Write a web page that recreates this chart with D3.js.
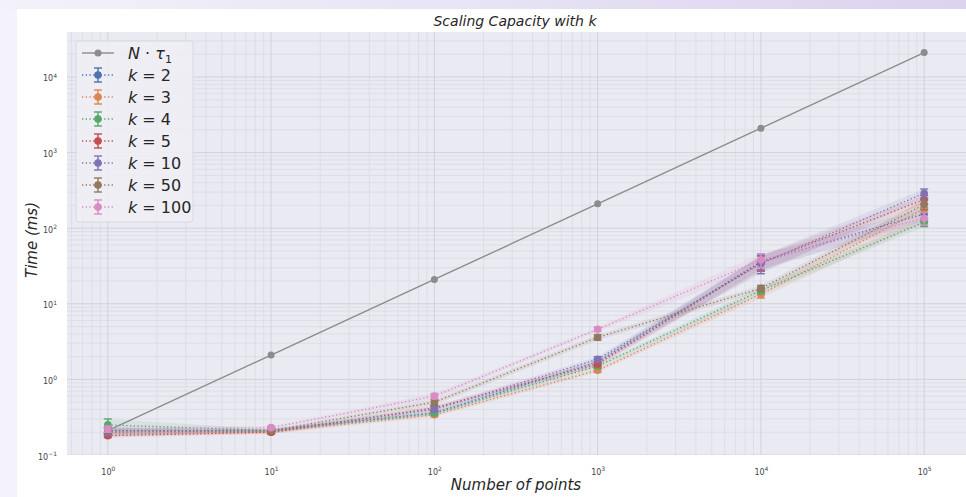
<!DOCTYPE html>
<html><head><meta charset="utf-8">
<script src="https://cdn.jsdelivr.net/npm/d3@7"></script>
<style>body{margin:0;padding:0;background:#fff;} svg{display:block;font-family:"DejaVu Sans",sans-serif;}</style>
</head><body>
<svg id="chart" width="966" height="497"></svg>
<script>
// ---- data ----
const xPoints = [1, 10, 100, 1000, 10000, 100000];
const refLine = [0.21, 2.1, 21, 210, 2100, 21000];           // N·tau1
const kLabels = ["2", "3", "4", "5", "10", "50", "100"];
const meanK2   = [0.21, 0.21, 0.36, 1.70, 36, 155];
const meanK3   = [0.19, 0.20, 0.34, 1.32, 13.4, 180];
const meanK4   = [0.25, 0.21, 0.36, 1.50, 15, 120];
const meanK5   = [0.18, 0.20, 0.42, 1.60, 35, 240];
const meanK10  = [0.20, 0.21, 0.40, 1.85, 34, 290];
const meanK50  = [0.21, 0.21, 0.50, 3.60, 16, 205];
const meanK100 = [0.22, 0.23, 0.60, 4.60, 38, 135];
const errK2   = [0.02, 0.01, 0.02, 0.15, 8, 30];
const errK3   = [0.01, 0.01, 0.02, 0.08, 1.5, 60];
const errK4   = [0.05, 0.01, 0.02, 0.10, 1.5, 15];
const errK5   = [0.01, 0.01, 0.03, 0.12, 8, 30];
const errK10  = [0.02, 0.01, 0.03, 0.15, 9, 40];
const errK50  = [0.02, 0.01, 0.04, 0.30, 1.5, 30];
const errK100 = [0.02, 0.01, 0.05, 0.30, 8, 25];
const xTicks = [1, 10, 100, 1000, 10000, 100000];
const yTicks = [0.1, 1, 10, 100, 1000, 10000];
const colors = ["#4c72b0", "#dd8452", "#55a868", "#c44e52", "#8172b3", "#937860", "#da8bc3"];
const refColor = "#8c8c8c";

const means = [meanK2, meanK3, meanK4, meanK5, meanK10, meanK50, meanK100];
const errs = [errK2, errK3, errK4, errK5, errK10, errK50, errK100];
const series = kLabels.map((k, i) => ({
  k, color: colors[i],
  pts: xPoints.map((x, j) => ({x, y: means[i][j], lo: means[i][j] - errs[i][j], hi: means[i][j] + errs[i][j]}))
}));

// ---- layout ----
const svg = d3.select("#chart");
const W = 966, H = 497;
const plot = {l: 67, r: 966, t: 32, b: 455};

// outer page background
const defs = svg.append("defs");
const grad = defs.append("linearGradient").attr("id", "topg").attr("x1", "0").attr("x2", "1").attr("y1", "0").attr("y2", "0");
grad.append("stop").attr("offset", "0").attr("stop-color", "#f3f2fa");
grad.append("stop").attr("offset", "1").attr("stop-color", "#dcd3ef");
svg.append("rect").attr("x", 0).attr("y", 0).attr("width", W).attr("height", H).attr("fill", "#f4f3fb");
svg.append("rect").attr("x", 0).attr("y", 0).attr("width", W).attr("height", 10).attr("fill", "url(#topg)");
svg.append("rect").attr("x", 17).attr("y", 9).attr("width", W - 17).attr("height", H - 9).attr("fill", "#ffffff");

const x = d3.scaleLog().domain([Math.pow(10, -0.25), Math.pow(10, 5.25)]).range([plot.l, plot.l + 898]);
const y = d3.scaleLog().domain([0.1, Math.pow(10, 4.595)]).range([plot.b, plot.t]);

defs.append("clipPath").attr("id", "clip").append("rect")
  .attr("x", plot.l).attr("y", plot.t).attr("width", plot.r - plot.l).attr("height", plot.b - plot.t);

svg.append("rect").attr("x", plot.l).attr("y", plot.t).attr("width", plot.r - plot.l).attr("height", plot.b - plot.t).attr("fill", "#eaeaf2");

// grid
const gGrid = svg.append("g").attr("clip-path", "url(#clip)");
function minorTicks(scale) {
  const [a, b] = scale.domain();
  const out = [];
  for (let e = Math.floor(Math.log10(a)) ; e <= Math.ceil(Math.log10(b)); e++) {
    for (let m = 2; m <= 9; m++) { const v = m * Math.pow(10, e); if (v >= a && v <= b) out.push(v); }
  }
  return out;
}
gGrid.selectAll(".xmin").data(minorTicks(x)).join("line")
  .attr("x1", d => x(d)).attr("x2", d => x(d)).attr("y1", plot.t).attr("y2", plot.b)
  .attr("stroke", "#dadae3").attr("stroke-width", 0.8);
gGrid.selectAll(".ymin").data(minorTicks(y)).join("line")
  .attr("y1", d => y(d)).attr("y2", d => y(d)).attr("x1", plot.l).attr("x2", plot.r)
  .attr("stroke", "#dadae3").attr("stroke-width", 0.8);
gGrid.selectAll(".xmaj").data(xTicks).join("line")
  .attr("x1", d => x(d)).attr("x2", d => x(d)).attr("y1", plot.t).attr("y2", plot.b)
  .attr("stroke", "#d2d2dc").attr("stroke-width", 1);
gGrid.selectAll(".ymaj").data(yTicks).join("line")
  .attr("y1", d => y(d)).attr("y2", d => y(d)).attr("x1", plot.l).attr("x2", plot.r)
  .attr("stroke", "#d2d2dc").attr("stroke-width", 1);

// axes
function supLabels(sel) {
  sel.selectAll(".tick text").each(function(d) {
    const t = d3.select(this);
    const e = Math.round(Math.log10(d));
    t.text(null);
    t.append("tspan").text("10");
    t.append("tspan").attr("dy", "-0.6em").attr("font-size", "6px").text(e < 0 ? "\u2212" + (-e) : e);
  });
}
const gx = svg.append("g").attr("transform", `translate(0,${plot.b})`)
  .call(d3.axisBottom(x).tickValues(xTicks).tickSize(0).tickPadding(14));
gx.select(".domain").remove();
gx.selectAll(".tick text").attr("font-size", "8px").attr("fill", "#444").attr("font-family", "DejaVu Sans");
supLabels(gx);

const gy = svg.append("g").attr("transform", `translate(${plot.l},0)`)
  .call(d3.axisLeft(y).tickValues(yTicks).tickSize(0).tickPadding(10));
gy.select(".domain").remove();
gy.selectAll(".tick text").attr("font-size", "8px").attr("fill", "#444").attr("font-family", "DejaVu Sans").attr("dy", "0.5em");
supLabels(gy);

// data layer
const gData = svg.append("g").attr("clip-path", "url(#clip)");

// reference line
gData.append("path").datum(xPoints.map((xv, i) => ({x: xv, y: refLine[i]})))
  .attr("d", d3.line().x(d => x(d.x)).y(d => y(d.y)))
  .attr("fill", "none").attr("stroke", refColor).attr("stroke-width", 1.4);
gData.selectAll(".refpt").data(xPoints.map((xv, i) => ({x: xv, y: refLine[i]}))).join("circle")
  .attr("cx", d => x(d.x)).attr("cy", d => y(d.y)).attr("r", 3.5).attr("fill", refColor);

// bands
series.forEach(s => {
  gData.append("path").datum(s.pts)
    .attr("d", d3.area().x(d => x(d.x)).y0(d => y(Math.max(d.lo, 0.01))).y1(d => y(d.hi)))
    .attr("fill", s.color).attr("fill-opacity", 0.12).attr("stroke", "none");
});
// lines, error bars, markers
series.forEach(s => {
  const g = gData.append("g");
  g.append("path").datum(s.pts)
    .attr("d", d3.line().x(d => x(d.x)).y(d => y(d.y)))
    .attr("fill", "none").attr("stroke", s.color).attr("stroke-width", 1.3).attr("stroke-dasharray", "1.3,2.4");
  const eb = g.selectAll(".eb").data(s.pts).join("g");
  eb.append("line").attr("x1", d => x(d.x)).attr("x2", d => x(d.x))
    .attr("y1", d => y(Math.max(d.lo, 0.01))).attr("y2", d => y(d.hi)).attr("stroke", s.color).attr("stroke-width", 1.4);
  eb.append("line").attr("x1", d => x(d.x) - 4).attr("x2", d => x(d.x) + 4)
    .attr("y1", d => y(d.hi)).attr("y2", d => y(d.hi)).attr("stroke", s.color).attr("stroke-width", 1.4);
  eb.append("line").attr("x1", d => x(d.x) - 4).attr("x2", d => x(d.x) + 4)
    .attr("y1", d => y(Math.max(d.lo, 0.01))).attr("y2", d => y(Math.max(d.lo, 0.01))).attr("stroke", s.color).attr("stroke-width", 1.4);
  g.selectAll(".pt").data(s.pts).join("circle")
    .attr("cx", d => x(d.x)).attr("cy", d => y(d.y)).attr("r", 3.8).attr("fill", s.color);
});

// title and axis labels
svg.append("text").attr("x", 515).attr("y", 26).attr("text-anchor", "middle")
  .attr("font-size", "14px").attr("font-style", "italic").attr("fill", "#262626").text("Scaling Capacity with k");
svg.append("text").attr("x", 516).attr("y", 490).attr("text-anchor", "middle")
  .attr("font-size", "15px").attr("font-style", "italic").attr("fill", "#262626").text("Number of points");
svg.append("text").attr("transform", "translate(37,240) rotate(-90)").attr("text-anchor", "middle")
  .attr("font-size", "15px").attr("font-style", "italic").attr("fill", "#262626").text("Time (ms)");

// legend
const lg = svg.append("g");
lg.append("rect").attr("x", 76).attr("y", 41).attr("width", 117).attr("height", 181).attr("rx", 3)
  .attr("fill", "#eeeef5").attr("fill-opacity", 0.85).attr("stroke", "#d8d8e0");
const ly0 = 53, ldy = 22;
lg.append("line").attr("x1", 82).attr("x2", 114).attr("y1", ly0).attr("y2", ly0).attr("stroke", refColor).attr("stroke-width", 1.4);
lg.append("circle").attr("cx", 98).attr("cy", ly0).attr("r", 3.5).attr("fill", refColor);
const t0 = lg.append("text").attr("x", 128).attr("y", ly0 + 5.5).attr("font-size", "16px").attr("fill", "#262626");
t0.append("tspan").attr("font-style", "italic").text("N");
t0.append("tspan").text(" \u00b7 ");
t0.append("tspan").attr("font-style", "italic").text("\u03c4");
t0.append("tspan").attr("font-size", "11px").attr("dy", "4").text("1");
series.forEach((s, i) => {
  const yy = ly0 + ldy * (i + 1);
  lg.append("line").attr("x1", 82).attr("x2", 114).attr("y1", yy).attr("y2", yy)
    .attr("stroke", s.color).attr("stroke-width", 1.3).attr("stroke-dasharray", "1.3,2.4");
  lg.append("line").attr("x1", 98).attr("x2", 98).attr("y1", yy - 7).attr("y2", yy + 7).attr("stroke", s.color).attr("stroke-width", 1.4);
  lg.append("line").attr("x1", 94).attr("x2", 102).attr("y1", yy - 7).attr("y2", yy - 7).attr("stroke", s.color).attr("stroke-width", 1.4);
  lg.append("line").attr("x1", 94).attr("x2", 102).attr("y1", yy + 7).attr("y2", yy + 7).attr("stroke", s.color).attr("stroke-width", 1.4);
  lg.append("circle").attr("cx", 98).attr("cy", yy).attr("r", 3.8).attr("fill", s.color);
  const t = lg.append("text").attr("x", 128).attr("y", yy + 5.5).attr("font-size", "16px").attr("fill", "#262626");
  t.append("tspan").attr("font-style", "italic").text("k");
  t.append("tspan").text(" = " + s.k);
});
</script>
</body></html>
